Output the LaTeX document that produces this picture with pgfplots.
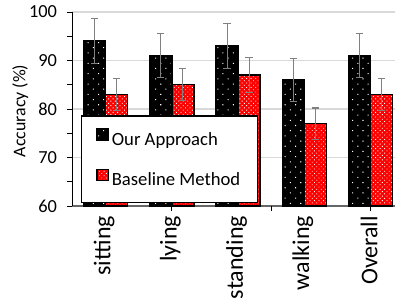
\documentclass[border=0pt]{standalone}
\usepackage{fontspec}
\setmainfont{Carlito}
\usepackage{pgfplots}
\pgfplotsset{compat=1.18}
\usetikzlibrary{patterns.meta}
\definecolor{gridgray}{HTML}{D9D9D9}
\definecolor{errgray}{HTML}{808080}
\begin{document}
\begin{tikzpicture}
\begin{axis}[
  name=ax,
  scale only axis,
  width=242pt, height=145.5pt,
  ybar=0pt, bar width=16.5pt,
  xmin=-0.5, xmax=4.37,
  ymin=60, ymax=100,
  axis x line*=bottom, axis y line*=left,
  x axis line style={black!60, line width=0.8pt},
  y axis line style={black, line width=0.8pt},
  xtick={0,1,2,3,4},
  xticklabels={sitting,lying,standing,walking,Overall},
  xtick style={draw=none},
  extra x ticks={1,2.5,4},
  extra x tick labels={},
  extra x tick style={xtick style={draw=black, line width=0.6pt}, major tick length=4pt, grid=none},
  ytick={60,70,80,90,100},
  minor ytick={65,75,85,95},
  tick align=outside,
  major tick length=4pt, minor tick length=4pt,
  ytick style={black, line width=0.6pt},
  ymajorgrids,
  major grid style={gridgray, line width=0.8pt},
  /pgf/number format/assume math mode=true,
  yticklabel style={font=\fontsize{13.8}{15}\selectfont, xshift=-4pt},
  xticklabel style={font=\fontsize{18}{20}\selectfont, rotate=90, anchor=east, yshift=1pt},
  ylabel={Accuracy (\%)},
  ylabel style={font=\fontsize{13.4}{15}\selectfont, at={(axis description cs:0,0.49)}, anchor=center, yshift=39pt},
  legend style={at={(0.027,0.015)}, anchor=south west, draw=black, line width=0.9pt, fill=white,
    font=\fontsize{14}{16}\selectfont, row sep=14pt, inner xsep=11pt, inner ysep=9.25pt},
  legend cell align=left,
  legend image code/.code={\draw[#1] (0pt,-0.5pt) rectangle (8.5pt,8pt);},
]
\addplot[fill=black, draw=black, line width=1.1pt,
  postaction={pattern={Dots[distance=5.5pt, radius=0.55pt, angle=45]}, pattern color=white},
  error bars/.cd, y dir=both, y explicit,
  error bar style={errgray, line width=0.8pt},
  error mark options={errgray, rotate=90, mark size=2.75pt, line width=0.8pt}]
coordinates {(0,94) +- (0,4.7) (1,91) +- (0,4.5) (2,93) +- (0,4.6) (3,86) +- (0,4.4) (4,91) +- (0,4.6)};
\addlegendentry{Our Approach}
\addplot[fill=red, draw=black, line width=1.1pt,
  postaction={pattern={Dots[distance=2.4pt, radius=0.45pt, angle=45]}, pattern color=white},
  error bars/.cd, y dir=both, y explicit,
  error bar style={errgray, line width=0.8pt},
  error mark options={errgray, rotate=90, mark size=2.75pt, line width=0.8pt}]
coordinates {(0,83) +- (0,3.3) (1,85) +- (0,3.3) (2,87) +- (0,3.6) (3,77) +- (0,3.2) (4,83) +- (0,3.3)};
\addlegendentry{Baseline Method}
\end{axis}
\path (ax.south west) ++(-54.3pt,-75.75pt) rectangle ++(297pt,230.25pt);
\end{tikzpicture}
\end{document}
